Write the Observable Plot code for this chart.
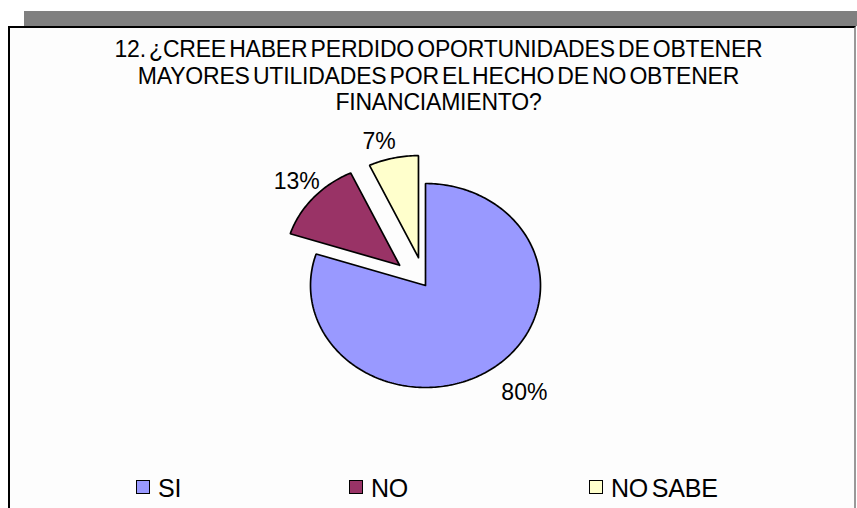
<!DOCTYPE html>
<html>
<head>
<meta charset="utf-8">
<script src="https://cdn.jsdelivr.net/npm/d3@7"></script>
<script src="https://cdn.jsdelivr.net/npm/@observablehq/plot@0.6"></script>
<style>
  html, body { margin: 0; padding: 0; background: #ffffff; }
  #page { position: relative; width: 857px; height: 508px; overflow: hidden; font-family: "Liberation Sans", Arial, sans-serif; }
  #bar { position: absolute; left: 24px; top: 11px; width: 833px; height: 15px; background: #808080; }
  #box { position: absolute; left: 8px; top: 26px; width: 848px; height: 490px; background: #fdfdfd;
         border-top: 2px solid #000; border-left: 2px solid #000; border-right: 2px solid #999; box-sizing: border-box; }
  #title { position: absolute; left: 0; width: 877px; top: 36px; text-align: center; font-size: 23px;
           line-height: 26.5px; letter-spacing: -0.2px; word-spacing: -3px; color: #000; }
  #chart { position: absolute; left: 0; top: 0; }
  .leg { position: absolute; top: 475px; font-size: 25px; line-height: 26px; letter-spacing: -0.2px; word-spacing: -3px; color: #000; white-space: nowrap; }
  .sw { position: absolute; top: 480px; width: 12px; height: 12px; border: 1.6px solid #000; }
</style>
</head>
<body>
<div id="page">
  <div id="bar"></div>
  <div id="box"></div>
  <div id="title"></div>
  <div id="chart"></div>
  <div id="legend"></div>
</div>
<script>
const titleLines = [
  "12. ¿CREE HABER PERDIDO OPORTUNIDADES DE OBTENER",
  "MAYORES UTILIDADES POR EL HECHO DE NO OBTENER",
  "FINANCIAMIENTO?"
];
const categories = ["SI", "NO", "NO SABE"];
const percents = [80, 13, 7];
const colors = ["#9999FF", "#993366", "#FFFFCC"];

document.getElementById("title").innerHTML = titleLines.map(t => `<div>${t}</div>`).join("");

// slice geometry (unit ellipse, clockwise from 12 o'clock)
const explode = [0, 0.3, 0.28];
const labelR = [1.30, 1.24, 1.17];
const labelDx = [11, 4, -10];
const total = d3.sum(percents);
let acc = 0;
const slices = categories.map((c, i) => {
  const a0 = acc / total * 2 * Math.PI;
  acc += percents[i];
  const a1 = acc / total * 2 * Math.PI;
  const mid = (a0 + a1) / 2;
  const ox = explode[i] * Math.sin(mid), oy = explode[i] * Math.cos(mid);
  const pts = [{x: ox, y: oy}];
  const n = Math.max(4, Math.ceil((a1 - a0) / (Math.PI / 180)));
  for (let k = 0; k <= n; k++) {
    const a = a0 + (a1 - a0) * k / n;
    pts.push({x: ox + Math.sin(a), y: oy + Math.cos(a)});
  }
  pts.push({x: ox, y: oy});
  return {cat: c, pct: percents[i], color: colors[i], pts,
          lx: ox + labelR[i] * Math.sin(mid), ly: oy + labelR[i] * Math.cos(mid), dx: labelDx[i]};
});

const cx = 425, cy = 285, rx = 115, ry = 102;
const plot = Plot.plot({
  width: 857, height: 508,
  margin: 0,
  x: {domain: [-1, 1], range: [cx - rx, cx + rx], axis: null},
  y: {domain: [-1, 1], range: [cy + ry, cy - ry], axis: null},
  style: {background: "transparent", fontFamily: "Liberation Sans, Arial, sans-serif"},
  marks: [
    ...slices.map(s => Plot.line(s.pts, {x: "x", y: "y", fill: s.color, stroke: "#000", strokeWidth: 1.7, strokeLinejoin: "miter"})),
    ...slices.map(s => Plot.text([s], {x: "lx", y: "ly", dx: s.dx, text: d => d.pct + "%", fontSize: 23, fill: "#000"}))
  ]
});
document.getElementById("chart").appendChild(plot);

const swLeft = [136, 349, 589];
document.getElementById("legend").innerHTML = categories.map((c, i) =>
  `<div class="sw" style="left:${swLeft[i]}px;background:${colors[i]}"></div>` +
  `<div class="leg" style="left:${swLeft[i] + 22}px">${c}</div>`).join("");
</script>
</body>
</html>
